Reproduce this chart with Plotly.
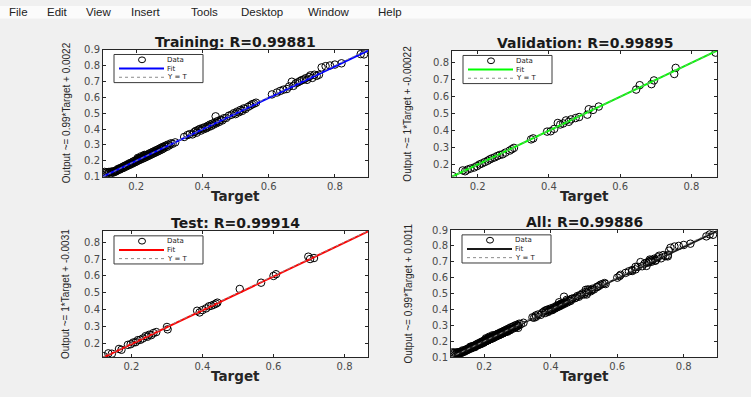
import plotly.graph_objects as go

# ---------------- data ----------------
menu_items = ["File", "Edit", "View", "Insert", "Tools", "Desktop", "Window", "Help"]

panel_names = ["Training", "Validation", "Test", "All"]
r_values = ["0.99881", "0.99895", "0.99914", "0.99886"]
fit_slopes = [0.99, 1.0, 1.0, 0.99]
fit_intercepts = [0.0022, -0.00022, -0.0031, 0.0011]
y_labels = ["Output ~= 0.99*Target + 0.0022",
            "Output ~= 1*Target + -0.00022",
            "Output ~= 1*Target + -0.0031",
            "Output ~= 0.99*Target + 0.0011"]
x_label = "Target"
legend_labels = ["Data", "Fit", "Y = T"]
axis_limits = [[0.1, 0.9], [0.128, 0.872], [0.12, 0.866], [0.1, 0.9]]
x_ticks = [0.2, 0.4, 0.6, 0.8]
y_ticks_train = [0.1, 0.2, 0.3, 0.4, 0.5, 0.6, 0.7, 0.8, 0.9]
y_ticks_val = [0.2, 0.3, 0.4, 0.5, 0.6, 0.7, 0.8]

train_target = [
    0.105, 0.108, 0.112, 0.115, 0.118, 0.120, 0.123, 0.125, 0.128, 0.130, 0.133, 0.135, 0.138, 0.140,
    0.143, 0.145, 0.148, 0.150, 0.152, 0.155, 0.158, 0.160, 0.162, 0.165, 0.168, 0.170, 0.172, 0.175,
    0.178, 0.180, 0.182, 0.185, 0.188, 0.190, 0.192, 0.195, 0.198, 0.200, 0.202, 0.205, 0.207, 0.210,
    0.212, 0.215, 0.217, 0.220, 0.222, 0.225, 0.227, 0.230, 0.232, 0.235, 0.237, 0.240, 0.242, 0.245,
    0.247, 0.250, 0.252, 0.255, 0.257, 0.260, 0.262, 0.265, 0.267, 0.270, 0.272, 0.275, 0.278, 0.280,
    0.283, 0.286, 0.290, 0.293, 0.296, 0.300, 0.305, 0.310, 0.318, 0.225, 0.215, 0.205,
    0.345, 0.355, 0.362, 0.370, 0.375, 0.380, 0.383, 0.388, 0.392, 0.395, 0.400, 0.403, 0.408, 0.412,
    0.416, 0.420, 0.423, 0.427, 0.430, 0.434, 0.438, 0.440, 0.442, 0.446, 0.450, 0.455, 0.460, 0.465,
    0.472, 0.480, 0.488, 0.495, 0.500, 0.505, 0.510, 0.515, 0.520, 0.525, 0.530, 0.538, 0.545, 0.550,
    0.556, 0.562,
    0.610, 0.625, 0.635, 0.645, 0.655, 0.662, 0.670, 0.675, 0.682, 0.688, 0.695, 0.700, 0.706, 0.712,
    0.716, 0.722, 0.726, 0.732, 0.738, 0.745, 0.752, 0.760, 0.772, 0.785, 0.800, 0.820, 0.878, 0.888]
train_output = [
    0.130, 0.125, 0.128, 0.122, 0.130, 0.126, 0.120, 0.132, 0.128, 0.125, 0.135, 0.130, 0.138, 0.134,
    0.142, 0.148, 0.143, 0.152, 0.147, 0.157, 0.153, 0.162, 0.156, 0.168, 0.163, 0.172, 0.166, 0.178,
    0.173, 0.184, 0.176, 0.188, 0.182, 0.194, 0.187, 0.199, 0.192, 0.205, 0.197, 0.212, 0.202, 0.216,
    0.207, 0.220, 0.212, 0.226, 0.216, 0.230, 0.221, 0.236, 0.226, 0.240, 0.231, 0.246, 0.236, 0.250,
    0.241, 0.256, 0.246, 0.260, 0.251, 0.266, 0.256, 0.270, 0.261, 0.276, 0.266, 0.281, 0.272, 0.287,
    0.278, 0.291, 0.296, 0.288, 0.302, 0.297, 0.310, 0.307, 0.316, 0.237, 0.228, 0.218,
    0.350, 0.362, 0.368, 0.366, 0.380, 0.388, 0.377, 0.395, 0.400, 0.390, 0.406, 0.398, 0.412, 0.405,
    0.420, 0.414, 0.428, 0.420, 0.434, 0.428, 0.442, 0.480, 0.436, 0.450, 0.444, 0.458, 0.454, 0.468,
    0.470, 0.484, 0.490, 0.500, 0.494, 0.510, 0.505, 0.520, 0.514, 0.530, 0.526, 0.540, 0.548, 0.556,
    0.560, 0.566,
    0.618, 0.630, 0.640, 0.648, 0.652, 0.668, 0.698, 0.672, 0.688, 0.694, 0.702, 0.708, 0.712, 0.720,
    0.710, 0.728, 0.738, 0.722, 0.742, 0.735, 0.742, 0.788, 0.796, 0.800, 0.806, 0.814, 0.872, 0.870]

val_target = [
    0.130, 0.158, 0.165, 0.172, 0.180, 0.190, 0.198, 0.205, 0.212, 0.220, 0.228, 0.234, 0.240, 0.248,
    0.255, 0.262, 0.270, 0.278, 0.290, 0.296, 0.302, 0.350, 0.356, 0.395, 0.405, 0.415, 0.425, 0.432,
    0.440, 0.448, 0.456, 0.462, 0.475, 0.485, 0.508, 0.512, 0.524, 0.540, 0.645, 0.655, 0.688, 0.695,
    0.752, 0.756, 0.868]
val_output = [
    0.132, 0.165, 0.160, 0.170, 0.176, 0.182, 0.190, 0.200, 0.206, 0.214, 0.222, 0.230, 0.236, 0.242,
    0.250, 0.256, 0.260, 0.270, 0.282, 0.290, 0.298, 0.348, 0.354, 0.394, 0.396, 0.410, 0.445, 0.436,
    0.442, 0.460, 0.452, 0.466, 0.474, 0.480, 0.494, 0.526, 0.522, 0.542, 0.642, 0.668, 0.674, 0.696,
    0.734, 0.770, 0.860]

test_target = [
    0.122, 0.135, 0.145, 0.165, 0.172, 0.190, 0.198, 0.205, 0.212, 0.218, 0.225, 0.232, 0.240, 0.245,
    0.250, 0.256, 0.262, 0.270, 0.300, 0.302, 0.385, 0.392, 0.400, 0.410, 0.418, 0.425, 0.432, 0.438,
    0.442, 0.505, 0.565, 0.600, 0.607, 0.698, 0.703, 0.714]
test_output = [
    0.125, 0.142, 0.140, 0.168, 0.163, 0.192, 0.196, 0.206, 0.208, 0.220, 0.222, 0.230, 0.244, 0.240,
    0.252, 0.250, 0.262, 0.268, 0.298, 0.284, 0.394, 0.384, 0.398, 0.408, 0.420, 0.424, 0.430, 0.436,
    0.442, 0.523, 0.560, 0.600, 0.610, 0.714, 0.700, 0.706]

all_target = train_target + val_target + test_target
all_output = train_output + val_output + test_output

targets = [train_target, val_target, test_target, all_target]
outputs = [train_output, val_output, test_output, all_output]

# ---------------- styling / layout ----------------
W, H = 751, 397
fit_colors = ["#0000ff", "#00ff00", "#ff0000", "#1a1a1a"]
boxes = [(103, 45, 368, 176), (452, 46, 717, 176), (103, 232, 368, 362), (451, 231, 717, 362)]
ylabel_x = [66, 408, 65, 409]


def fx(p):
    return p / W


def fy(p):
    return 1 - p / H


fig = go.Figure()
shapes = []
annotations = []
AX = "#262626"

for i in range(4):
    xa = "x" if i == 0 else f"x{i+1}"
    ya = "y" if i == 0 else f"y{i+1}"
    lo, hi = axis_limits[i]
    L, T, R, B = boxes[i]

    fig.add_trace(go.Scatter(
        x=targets[i], y=outputs[i], mode="markers", xaxis=xa, yaxis=ya,
        marker=dict(symbol="circle-open", size=7.5, color="black", line=dict(width=1)),
        name="Data", showlegend=False, hoverinfo="x+y"))
    fig.add_trace(go.Scatter(
        x=[lo, hi], y=[fit_slopes[i] * lo + fit_intercepts[i], fit_slopes[i] * hi + fit_intercepts[i]],
        mode="lines", xaxis=xa, yaxis=ya, line=dict(color=fit_colors[i], width=2),
        name="Fit", showlegend=False))
    fig.add_trace(go.Scatter(
        x=[lo, hi], y=[lo, hi], mode="lines", xaxis=xa, yaxis=ya,
        line=dict(color="#8c8c8c", width=1, dash="dot"), name="Y = T", showlegend=False))

    yt = y_ticks_train if i in (0, 3) else y_ticks_val
    common = dict(showline=True, mirror="ticks", linecolor=AX, linewidth=1, ticks="inside",
                  ticklen=3, tickcolor=AX, showgrid=False, zeroline=False, fixedrange=True,
                  tickfont=dict(family="DejaVu Sans", size=10, color="#4a4a4a"),
                  tickformat=".1f", range=[lo, hi])
    fig.layout[("xaxis" if i == 0 else f"xaxis{i+1}")] = dict(
        common, domain=[fx(L), fx(R)], anchor=ya, tickvals=x_ticks)
    fig.layout[("yaxis" if i == 0 else f"yaxis{i+1}")] = dict(
        common, domain=[fy(B), fy(T)], anchor=xa, tickvals=yt)

    # axis titles
    annotations.append(dict(
        text=x_label, x=fx((L + R) / 2), y=fy(B + 20), xref="paper", yref="paper",
        showarrow=False, xanchor="center", yanchor="middle", borderpad=0,
        font=dict(family="DejaVu Sans", size=13.5, color="#262626", weight="bold")))
    annotations.append(dict(
        text=y_labels[i], x=fx(ylabel_x[i]), y=fy((T + B) / 2), xref="paper", yref="paper",
        showarrow=False, xanchor="center", yanchor="middle", textangle=-90,
        font=dict(family="Liberation Sans", size=10, color="#262626")))

    # title
    annotations.append(dict(
        text=f"{panel_names[i]}: R={r_values[i]}", x=fx((L + R) / 2), y=fy(T - 8),
        xref="paper", yref="paper", showarrow=False, xanchor="center", yanchor="middle",
        font=dict(family="DejaVu Sans", size=14, color="#1a1a1a", weight="bold")))

    # legend box
    lx0, ly0 = L + 11, T + 5
    lx1, ly1 = lx0 + 89, ly0 + 29
    shapes.append(dict(type="rect", xref="paper", yref="paper", x0=fx(lx0), x1=fx(lx1),
                       y0=fy(ly1), y1=fy(ly0), fillcolor="white",
                       line=dict(color="#3a3a3a", width=1), layer="above"))
    rows = [ly0 + 5.5, ly0 + 14.5, ly0 + 23.5]
    shapes.append(dict(type="circle", xref="paper", yref="paper",
                       x0=fx(lx0 + 24.5), x1=fx(lx0 + 31.5), y0=fy(rows[0] + 3), y1=fy(rows[0] - 3),
                       line=dict(color="black", width=1), layer="above"))
    shapes.append(dict(type="line", xref="paper", yref="paper",
                       x0=fx(lx0 + 5), x1=fx(lx0 + 50), y0=fy(rows[1]), y1=fy(rows[1]),
                       line=dict(color=fit_colors[i], width=2), layer="above"))
    shapes.append(dict(type="line", xref="paper", yref="paper",
                       x0=fx(lx0 + 5), x1=fx(lx0 + 50), y0=fy(rows[2]), y1=fy(rows[2]),
                       line=dict(color="#8c8c8c", width=1, dash="dot"), layer="above"))
    for txt, ry in zip(legend_labels, rows):
        annotations.append(dict(
            text=txt, x=fx(lx0 + 52), y=fy(ry), xref="paper", yref="paper", showarrow=False,
            xanchor="left", yanchor="middle", borderpad=0,
            font=dict(family="DejaVu Sans", size=7, color="#1a1a1a")))

# menu bar
shapes.insert(0, dict(type="rect", xref="paper", yref="paper", x0=0, x1=1, y0=fy(13), y1=1,
                      fillcolor="#fbfbfb", line=dict(width=0), layer="below"))
menu_x = [8, 46, 85, 130, 190, 240, 307, 377]
for mx, txt in zip(menu_x, menu_items):
    annotations.append(dict(
        text=txt, x=fx(mx), y=fy(6), xref="paper", yref="paper", showarrow=False,
        xanchor="left", yanchor="middle", borderpad=0,
        font=dict(family="Liberation Sans", size=11.5, color="#222222")))

fig.update_layout(
    width=W, height=H, margin=dict(l=0, r=0, t=0, b=0),
    paper_bgcolor="#f0f0f0", plot_bgcolor="white", showlegend=False,
    shapes=shapes, annotations=annotations)

fig.write_html("out.html", config={"displayModeBar": False},
               post_script="document.body.style.margin='0px';")
